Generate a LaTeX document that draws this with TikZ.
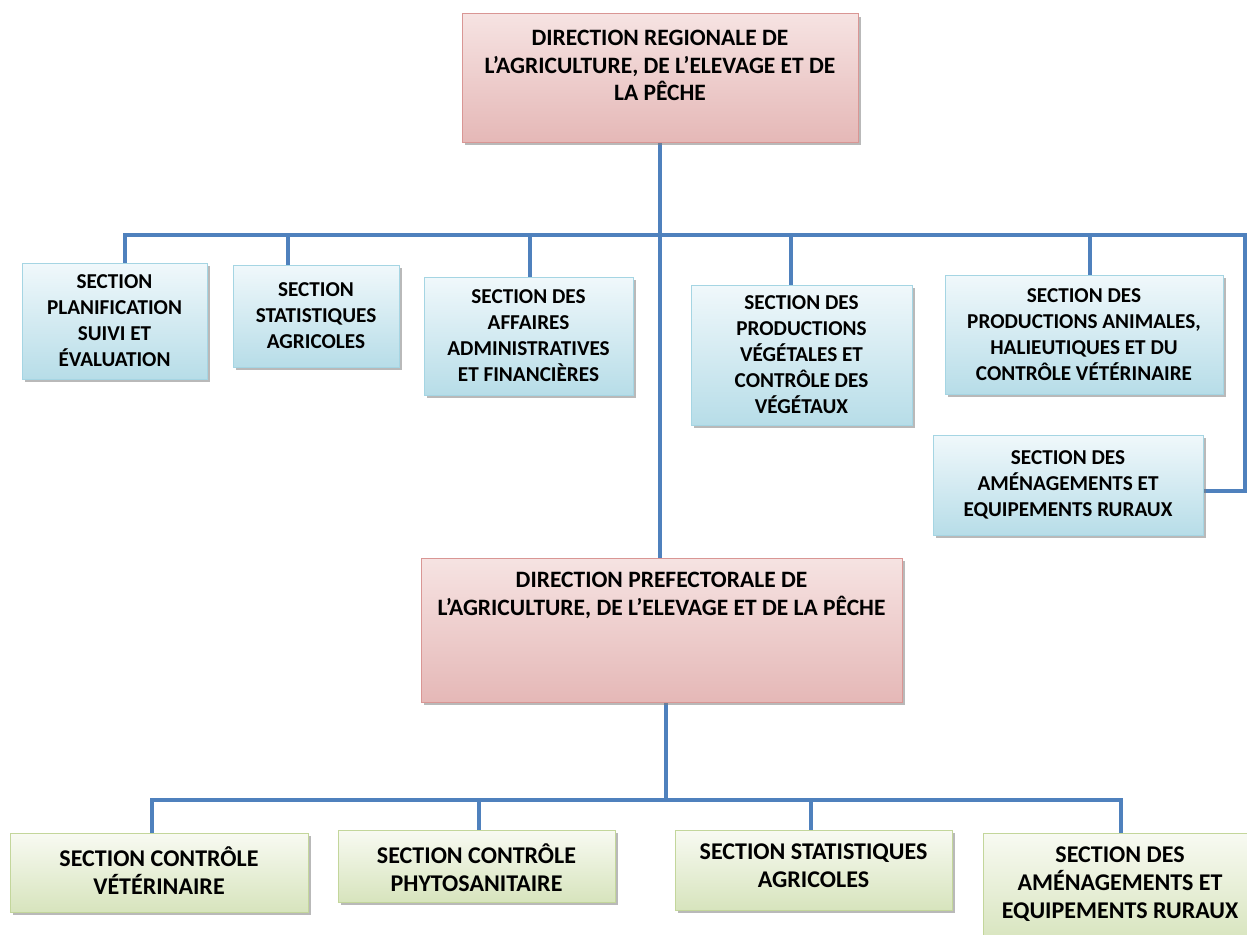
\documentclass[tikz,border=0pt]{standalone}
\usepackage{fontspec}
\setmainfont{Carlito}
\usetikzlibrary{shadows}
\definecolor{conn}{HTML}{4F81BD}
\definecolor{pinktop}{HTML}{F6E3E2}
\definecolor{pinkbot}{HTML}{E5B8B7}
\definecolor{pinkedge}{HTML}{D99694}
\definecolor{bluetop}{HTML}{F0F8FB}
\definecolor{bluebot}{HTML}{B7DDE8}
\definecolor{blueedge}{HTML}{A5D5E3}
\definecolor{greentop}{HTML}{F8FAF2}
\definecolor{greenbot}{HTML}{D7E4BD}
\definecolor{greenedge}{HTML}{C3D69B}
\pgfdeclarelayer{bg}
\pgfsetlayers{bg,main}
\newcommand{\bxt}[5]{\parbox[c][#2pt][#3]{#1pt}{\centering\vspace*{#4pt}#5\par}}
\tikzset{
  box/.style={anchor=north west, inner sep=0pt, outer sep=0pt, draw, line width=1pt,
    general shadow={shadow xshift=3pt, shadow yshift=-3pt, fill=black!50, opacity=0.55}},
  pinkbox/.style={box, draw=pinkedge, top color=pinktop, bottom color=pinkbot,
    font=\fontsize{23.5}{27.5}\selectfont\bfseries},
  bluebox/.style={box, draw=blueedge, top color=bluetop, bottom color=bluebot,
    font=\fontsize{21.2}{26}\selectfont\bfseries},
  greenbox/.style={box, draw=greenedge, top color=greentop, bottom color=greenbot,
    font=\fontsize{24}{28}\selectfont\bfseries},
  conn/.style={draw=conn, line width=4pt, line cap=rect, line join=miter}
}
\begin{document}
\begin{tikzpicture}[x=1pt,y=-1pt]
\useasboundingbox (0,0) rectangle (1247,934);
\begin{pgfonlayer}{bg}
  \fill[white] (0,0) rectangle (1247,934);
\end{pgfonlayer}

% top level
\node[pinkbox] (DR) at (462,14) {\bxt{396}{128}{t}{16.5}{DIRECTION REGIONALE DE\\L’AGRICULTURE, DE L’ELEVAGE ET DE\\LA PÊCHE}};

% regional sections
\node[bluebox] (PSE) at (22,263) {\bxt{185}{116}{c}{0}{SECTION\\PLANIFICATION\\SUIVI ET\\ÉVALUATION}};
\node[bluebox] (SA) at (233,265) {\bxt{166}{102}{c}{0}{SECTION\\STATISTIQUES\\AGRICOLES}};
\node[bluebox] (DAAF) at (424,277) {\bxt{209}{118}{c}{0}{SECTION DES\\AFFAIRES\\ADMINISTRATIVES\\ET FINANCIÈRES}};
\node[bluebox] (PVCV) at (691,285) {\bxt{221}{140}{c}{0}{SECTION DES\\PRODUCTIONS\\VÉGÉTALES ET\\CONTRÔLE DES\\VÉGÉTAUX}};
\node[bluebox] (PAHCV) at (945,275) {\bxt{278}{119}{c}{0}{SECTION DES\\PRODUCTIONS ANIMALES,\\HALIEUTIQUES ET DU\\CONTRÔLE VÉTÉRINAIRE}};
\node[bluebox] (AER) at (933,435) {\bxt{270}{100}{c}{0}{SECTION DES\\AMÉNAGEMENTS ET\\EQUIPEMENTS RURAUX}};

% prefectoral level
\node[pinkbox] (DP) at (421,558) {\bxt{481}{144}{t}{14.5}{DIRECTION PREFECTORALE DE\\L’AGRICULTURE, DE L’ELEVAGE ET DE LA PÊCHE}};

% prefectoral sections
\node[greenbox] (CV) at (10,833) {\bxt{298}{79}{t}{14}{SECTION CONTRÔLE\\VÉTÉRINAIRE}};
\node[greenbox] (CP) at (338,830) {\bxt{277}{72}{t}{13.5}{SECTION CONTRÔLE\\PHYTOSANITAIRE}};
\node[greenbox] (SA2) at (675,830) {\bxt{277}{80}{t}{14}{SECTION STATISTIQUES\\AGRICOLES}};
\node[greenbox] (AER2) at (983,833) {\bxt{274}{110}{t}{14}{SECTION DES\\AMÉNAGEMENTS ET\\EQUIPEMENTS RURAUX}};

\begin{pgfonlayer}{bg}
  % upper bus
  \coordinate (u1) at (125,235);
  \coordinate (u2) at (288,235);
  \coordinate (u3) at (530,235);
  \coordinate (u4) at (791,235);
  \coordinate (u5) at (1090,235);
  \coordinate (uR) at (1245,235);
  \draw[conn] (DR.south) -- (DR.south |- DP.north);
  \draw[conn] (u1) -- (uR);
  \draw[conn] (uR) |- ([yshift=-6pt]AER.east);
  \draw[conn] (u1) -- (u1 |- PSE.north);
  \draw[conn] (u2) -- (u2 |- SA.north);
  \draw[conn] (u3) -- (u3 |- DAAF.north);
  \draw[conn] (u4) -- (u4 |- PVCV.north);
  \draw[conn] (u5) -- (u5 |- PAHCV.north);
  % lower bus
  \coordinate (dT) at (666,800);
  \coordinate (d1) at (152,800);
  \coordinate (d2) at (479,800);
  \coordinate (d3) at (811,800);
  \coordinate (d4) at (1121,800);
  \draw[conn] (dT |- DP.south) -- (dT);
  \draw[conn] (d1) -- (d4);
  \draw[conn] (d1) -- (d1 |- CV.north);
  \draw[conn] (d2) -- (d2 |- CP.north);
  \draw[conn] (d3) -- (d3 |- SA2.north);
  \draw[conn] (d4) -- (d4 |- AER2.north);
\end{pgfonlayer}
\end{tikzpicture}
\end{document}
